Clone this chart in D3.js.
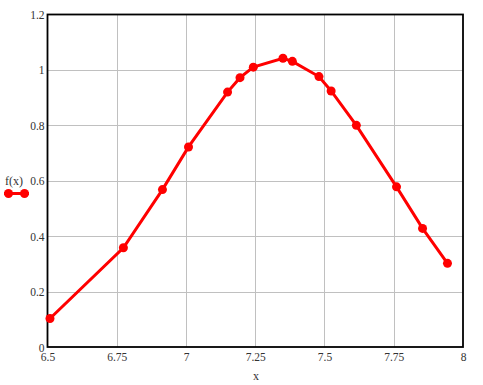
<!DOCTYPE html>
<html><head><meta charset="utf-8">
<script src="https://cdn.jsdelivr.net/npm/d3@7"></script>
<style>body{margin:0;background:#fff}svg{display:block}text{font-family:"Liberation Serif","Times New Roman",serif;}</style>
</head><body><svg id="c" width="483" height="385"></svg>
<script>
const xValues = [6.509, 6.774, 6.915, 7.009, 7.150, 7.195, 7.243, 7.350, 7.384, 7.480, 7.524, 7.615, 7.760, 7.854, 7.944];
const fValues = [0.103, 0.358, 0.568, 0.722, 0.920, 0.972, 1.010, 1.042, 1.031, 0.976, 0.924, 0.800, 0.578, 0.428, 0.302];
const xTicks = [6.5, 6.75, 7, 7.25, 7.5, 7.75, 8];
const yTicks = [0, 0.2, 0.4, 0.6, 0.8, 1, 1.2];
const xTickLabels = ["6.5", "6.75", "7", "7.25", "7.5", "7.75", "8"];
const yTickLabels = ["0", "0.2", "0.4", "0.6", "0.8", "1", "1.2"];

const svg = d3.select("#c");
const L = 47.5, R = 463, T = 14.5, B = 347;
const x = d3.scaleLinear().domain([6.5, 8]).range([L, R]);
const y = d3.scaleLinear().domain([0, 1.2]).range([B, T]);
const red = "#ff0000";

// grid
svg.append("g").selectAll("line").data(xTicks.slice(1, -1)).join("line")
  .attr("x1", d => Math.round(x(d)) + 0.5).attr("x2", d => Math.round(x(d)) + 0.5)
  .attr("y1", T).attr("y2", B).attr("stroke", "#c0c0c0").attr("stroke-width", 1);
svg.append("g").selectAll("line").data(yTicks.slice(1, -1)).join("line")
  .attr("y1", d => Math.round(y(d)) + 0.5).attr("y2", d => Math.round(y(d)) + 0.5)
  .attr("x1", L).attr("x2", R).attr("stroke", "#c0c0c0").attr("stroke-width", 1);

// frame
svg.append("rect").attr("x", L).attr("y", T).attr("width", R - L).attr("height", B - T)
  .attr("fill", "none").attr("stroke", "#000").attr("stroke-width", 1.8);

// tick labels via axes (no tick lines)
const xAxis = svg.append("g").attr("transform", `translate(0,${B})`)
  .call(d3.axisBottom(x).tickValues(xTicks).tickFormat((d, i) => xTickLabels[i]).tickSize(0).tickPadding(5));
const yAxis = svg.append("g").attr("transform", `translate(${L},0)`)
  .call(d3.axisLeft(y).tickValues(yTicks).tickFormat((d, i) => yTickLabels[i]).tickSize(0).tickPadding(3));
[xAxis, yAxis].forEach(a => {
  a.select(".domain").remove();
  a.selectAll("text").attr("font-family", '"Liberation Serif","Times New Roman",serif')
    .attr("font-size", 11.5).attr("fill", "#333");
});
yAxis.selectAll("text").attr("dy", "0.35em");
xAxis.selectAll("text").attr("dy", "0.75em");

// line + markers
const pts = xValues.map((v, i) => [v, fValues[i]]);
svg.append("path").datum(pts)
  .attr("d", d3.line().x(d => x(d[0])).y(d => y(d[1])))
  .attr("fill", "none").attr("stroke", red).attr("stroke-width", 3);
svg.append("g").selectAll("circle").data(pts).join("circle")
  .attr("cx", d => x(d[0])).attr("cy", d => y(d[1])).attr("r", 4.5).attr("fill", red);

// axis title
svg.append("text").attr("x", 256).attr("y", 380).attr("text-anchor", "middle")
  .attr("font-size", 12).attr("fill", "#333").text("x");

// legend
svg.append("text").attr("x", 5).attr("y", 185).attr("font-size", 12).attr("fill", "#333").text("f(x)");
svg.append("line").attr("x1", 4).attr("x2", 29).attr("y1", 193.5).attr("y2", 193.5)
  .attr("stroke", red).attr("stroke-width", 3);
svg.append("g").selectAll("circle").data([8.5, 24.5]).join("circle")
  .attr("cx", d => d).attr("cy", 193.5).attr("r", 4.5).attr("fill", red);
</script></body></html>
